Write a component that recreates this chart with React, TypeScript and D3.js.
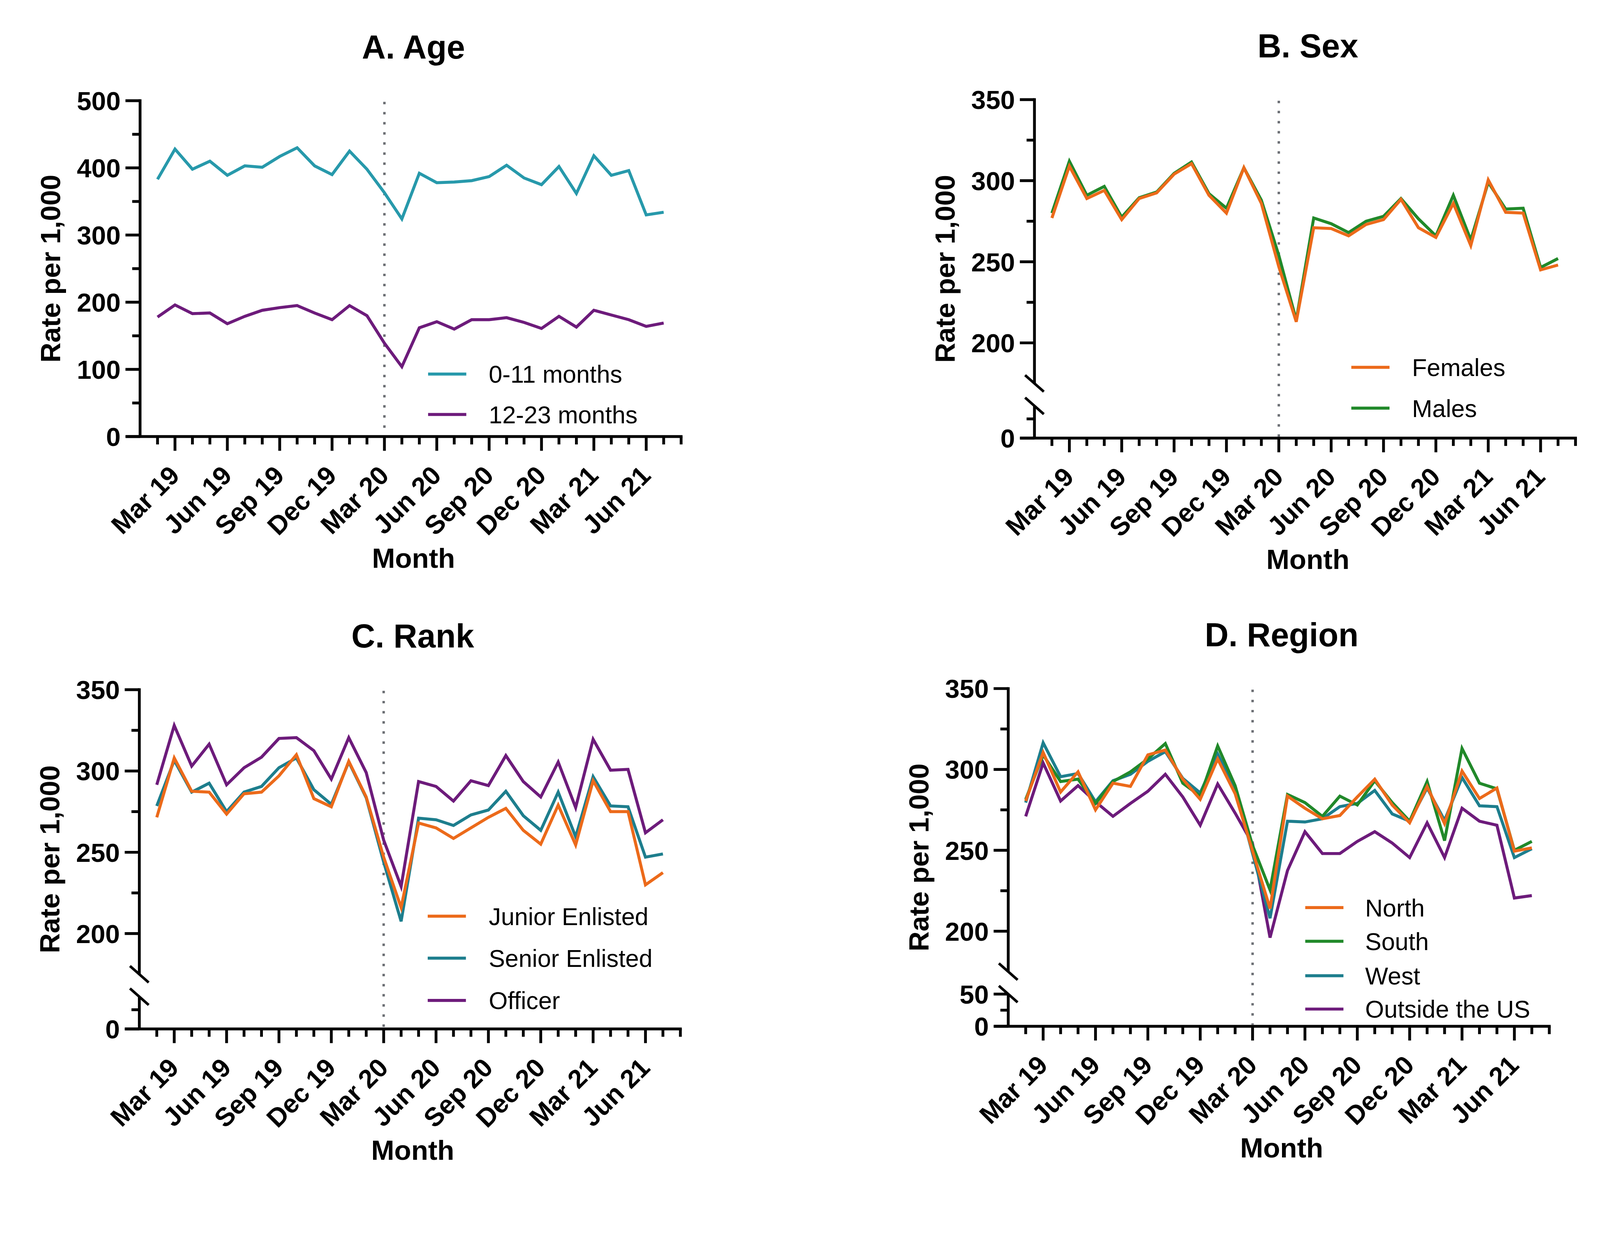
import React from "react"
import * as d3 from "d3"

const W = 4272
const H = 3160
const FONT = "'Liberation Sans', Arial, Helvetica, sans-serif"

// axis runs Jan 19 .. Aug 21, data Feb 19 .. Jul 21
const axisMonths = [
  "Jan 19", "Feb 19", "Mar 19", "Apr 19", "May 19", "Jun 19", "Jul 19", "Aug 19",
  "Sep 19", "Oct 19", "Nov 19", "Dec 19", "Jan 20", "Feb 20", "Mar 20", "Apr 20",
  "May 20", "Jun 20", "Jul 20", "Aug 20", "Sep 20", "Oct 20", "Nov 20", "Dec 20",
  "Jan 21", "Feb 21", "Mar 21", "Apr 21", "May 21", "Jun 21", "Jul 21", "Aug 21",
]
const dataMonths = axisMonths.slice(1, 31)
const xTickLabels = ["Mar 19", "Jun 19", "Sep 19", "Dec 19", "Mar 20", "Jun 20", "Sep 20", "Dec 20", "Mar 21", "Jun 21"]
const covidMonth = "Mar 20"

// A. Age
const age0to11 = [383, 428, 398, 410, 389, 403, 401, 417, 430, 403, 390, 425, 398, 363, 324, 392, 378, 379, 381, 387, 404, 385, 375, 402, 362, 418, 389, 396, 330, 334]
const age12to23 = [178, 196, 183, 184, 168, 179, 188, 192, 195, 184, 174, 195, 180, 139, 104, 162, 171, 160, 174, 174, 177, 170, 161, 179, 163, 188, 181, 174, 164, 169]

// B. Sex
const females = [277, 309, 289, 294, 276, 289, 292.5, 304, 310.5, 291, 280, 308, 286, 247, 213, 271, 270.5, 266, 273, 276, 288.5, 271, 265, 286, 260, 300.5, 280.5, 280, 245, 248]
const males = [280, 312, 291, 296.5, 277.5, 289.5, 293, 304.5, 311.5, 292, 283, 308, 288, 254, 214, 277, 273.5, 268, 275, 278, 289, 276.5, 266, 291, 263.5, 299, 282.5, 283, 246.5, 252]

// C. Rank
const juniorEnlisted = [271.5, 308, 287.5, 287, 273.5, 286, 287, 297, 310, 283, 278, 306, 284, 247, 216, 268, 265, 258.5, 265, 271.5, 277, 263.5, 255, 279, 254.5, 294, 275, 275, 230, 237.5]
const seniorEnlisted = [278.5, 306.5, 287, 292.5, 275, 287, 290.5, 302, 308, 288.5, 279.5, 305.5, 283.5, 244, 207.5, 271, 270, 266.5, 273, 276, 287.5, 272.5, 263.5, 287, 259.5, 296.5, 278.5, 278, 247, 249]
const officer = [291.5, 328, 303, 316.5, 291.5, 302, 308.5, 320, 320.5, 312.5, 295, 320.5, 299, 257.5, 229, 293.5, 290.5, 281.5, 294, 291, 309.5, 293.5, 284, 305.5, 277.5, 319.5, 300.5, 301, 262, 270]

// D. Region
const north = [280.5, 310.5, 286, 298.5, 275, 291.5, 289.5, 309, 312, 294, 281.5, 306.5, 285, 249.5, 214, 283.5, 276, 269.5, 271.5, 283, 294, 278, 267, 289.5, 266.5, 299, 282, 288.5, 249.5, 251.5]
const south = [281.5, 309, 292.5, 294, 279, 292.5, 298.5, 306.5, 316, 291.5, 283.5, 314.5, 290, 253, 225.5, 284.5, 279.5, 271, 283.5, 278, 293, 279.5, 268, 292.5, 256, 313, 291.5, 288, 250, 255.5]
const west = [279.5, 316.5, 295.5, 297.5, 280, 293, 297, 305, 311, 294.5, 285.5, 309.5, 288, 248, 208, 268, 267.5, 269.5, 277, 279, 287, 272.5, 268, 288.5, 268.5, 295, 277.5, 277, 245.5, 251]
const outsideUS = [271, 304, 280.5, 290, 280, 271, 279, 286.5, 297, 283, 265.5, 291, 273, 254, 196, 237.5, 261.5, 248, 248, 255.5, 261.5, 254.5, 245.5, 267, 245.5, 276, 268, 265.5, 220.5, 222]

const TEAL_A = "#2799AB"
const TEAL = "#1D7E8D"
const PURPLE = "#6D1B7B"
const ORANGE = "#EC6A1A"
const GREEN = "#21892A"

type Series = { name: string; color: string; values: number[] }

type PanelSpec = {
  title: string
  x0: number
  top: number
  bottom: number
  upper: [number, number]
  lower?: [number, number]
  major: number[]
  minor: number[]
  lowerMajor?: number[]
  lowerMinor?: number[]
  series: Series[]
  legendLineX: number
  legendTextX: number
  legendRows: number[]
}

const MW = 46.6
const AXIS_W = 7.5
const LINE_W = 8
const LOWER_H = 86
const GAP = 60

const panels: PanelSpec[] = [
  {
    title: "A. Age",
    x0: 374,
    top: 269,
    bottom: 1166,
    upper: [0, 500],
    major: [0, 100, 200, 300, 400, 500],
    minor: [50, 150, 250, 350, 450],
    series: [
      { name: "0-11 months", color: TEAL_A, values: age0to11 },
      { name: "12-23 months", color: PURPLE, values: age12to23 },
    ],
    legendLineX: 769,
    legendTextX: 931,
    legendRows: [-167, -59],
  },
  {
    title: "B. Sex",
    x0: 2762,
    top: 266,
    bottom: 1170,
    upper: [175, 350],
    lower: [0, 42],
    major: [200, 250, 300, 350],
    minor: [225, 275, 325],
    lowerMajor: [0],
    lowerMinor: [25],
    series: [
      { name: "Females", color: ORANGE, values: females },
      { name: "Males", color: GREEN, values: males },
    ],
    legendLineX: 846,
    legendTextX: 1008,
    legendRows: [-189, -80],
  },
  {
    title: "C. Rank",
    x0: 372,
    top: 1842,
    bottom: 2748,
    upper: [175, 350],
    lower: [0, 42],
    major: [200, 250, 300, 350],
    minor: [225, 275, 325],
    lowerMajor: [0],
    lowerMinor: [25],
    series: [
      { name: "Junior Enlisted", color: ORANGE, values: juniorEnlisted },
      { name: "Senior Enlisted", color: TEAL, values: seniorEnlisted },
      { name: "Officer", color: PURPLE, values: officer },
    ],
    legendLineX: 770,
    legendTextX: 933,
    legendRows: [-301, -189, -76],
  },
  {
    title: "D. Region",
    x0: 2692,
    top: 1839,
    bottom: 2741,
    upper: [175, 350],
    lower: [0, 50],
    major: [200, 250, 300, 350],
    minor: [225, 275, 325],
    lowerMajor: [0, 50],
    lowerMinor: [25],
    series: [
      { name: "North", color: ORANGE, values: north },
      { name: "South", color: GREEN, values: south },
      { name: "West", color: TEAL, values: west },
      { name: "Outside the US", color: PURPLE, values: outsideUS },
    ],
    legendLineX: 793,
    legendTextX: 953,
    legendRows: [-317, -227, -135, -46],
  },
]

function Panel({ spec }: { spec: PanelSpec }) {
  const { x0, top, bottom } = spec
  const x = d3
    .scalePoint<string>()
    .domain(axisMonths)
    .range([x0, x0 + (axisMonths.length - 1) * MW])

  const upperBottom = spec.lower ? bottom - LOWER_H - GAP : bottom
  const lowerTop = bottom - LOWER_H
  const yUp = d3.scaleLinear().domain(spec.upper).range([upperBottom, top])
  const yLow = spec.lower ? d3.scaleLinear().domain(spec.lower).range([bottom, lowerTop]) : null
  const y = (v: number) => (yLow && v < spec.upper[0] ? yLow(v) : yUp(v))

  const line = d3
    .line<number>()
    .x((_, i) => x(dataMonths[i])!)
    .y((v) => y(v))

  const xEnd = x(axisMonths[axisMonths.length - 1])!
  const cx = x0 + 730
  const tickLabelStyle = { fontFamily: FONT, fontWeight: 700, fontSize: 70 }

  const yTicks: { v: number; major: boolean; pos: number }[] = [
    ...spec.major.map((v) => ({ v, major: true, pos: yUp(v) })),
    ...spec.minor.map((v) => ({ v, major: false, pos: yUp(v) })),
    ...(yLow ? (spec.lowerMajor ?? []).map((v) => ({ v, major: true, pos: yLow(v) })) : []),
    ...(yLow ? (spec.lowerMinor ?? []).map((v) => ({ v, major: false, pos: yLow(v) })) : []),
  ]

  return (
    <g>
      <text x={cx} y={top - 113} textAnchor="middle" style={{ fontFamily: FONT, fontWeight: 700, fontSize: 88 }}>
        {spec.title}
      </text>

      {/* covid marker */}
      <line
        x1={x(covidMonth)}
        x2={x(covidMonth)}
        y1={top + 3}
        y2={bottom - 4}
        stroke="#6c6f74"
        strokeWidth={6.5}
        strokeDasharray="6.5 20.5"
      />

      {/* first listed series ends up on top, as in the original */}
      {[...spec.series].reverse().map((s) => (
        <path key={s.name} d={line(s.values)!} fill="none" stroke={s.color} strokeWidth={LINE_W} strokeLinejoin="miter" />
      ))}

      {/* y axis */}
      <line x1={x0} x2={x0} y1={top - AXIS_W / 2} y2={upperBottom} stroke="#000" strokeWidth={AXIS_W} />
      {yLow && <line x1={x0} x2={x0} y1={lowerTop} y2={bottom} stroke="#000" strokeWidth={AXIS_W} />}
      {yLow &&
        [upperBottom, lowerTop].map((yc) => (
          <line key={yc} x1={x0 - 25} x2={x0 + 25} y1={yc - 22} y2={yc + 22} stroke="#000" strokeWidth={7} />
        ))}
      {yTicks.map((t) => (
        <line
          key={`${t.v}-${t.pos}`}
          x1={x0 - (t.major ? 39 : 21)}
          x2={x0}
          y1={t.pos}
          y2={t.pos}
          stroke="#000"
          strokeWidth={AXIS_W}
        />
      ))}
      {yTicks
        .filter((t) => t.major)
        .map((t) => (
          <text key={`l${t.v}`} x={x0 - 52} y={t.pos} dy="0.36em" textAnchor="end" style={tickLabelStyle}>
            {t.v}
          </text>
        ))}

      {/* x axis */}
      <line x1={x0 - 38} x2={xEnd + AXIS_W / 2} y1={bottom} y2={bottom} stroke="#000" strokeWidth={AXIS_W} />
      {axisMonths.slice(1).map((m) => {
        const major = xTickLabels.includes(m)
        return (
          <line key={m} x1={x(m)} x2={x(m)} y1={bottom} y2={bottom + (major ? 38 : 21)} stroke="#000" strokeWidth={AXIS_W} />
        )
      })}
      {xTickLabels.map((m) => {
        const tx = x(m)! + 16
        const ty = bottom + 108
        return (
          <text key={m} x={tx} y={ty} textAnchor="end" transform={`rotate(-45 ${tx} ${ty})`} style={tickLabelStyle}>
            {m}
          </text>
        )
      })}

      <text x={cx} y={bottom + 350} textAnchor="middle" style={{ fontFamily: FONT, fontWeight: 700, fontSize: 74 }}>
        Month
      </text>
      <text
        transform={`translate(${x0 - 240},${(top + bottom) / 2}) rotate(-90)`}
        textAnchor="middle"
        dy="0.36em"
        style={{ fontFamily: FONT, fontWeight: 700, fontSize: 74 }}
      >
        Rate per 1,000
      </text>

      {/* legend */}
      {spec.series.map((s, i) => {
        const ly = bottom + spec.legendRows[i]
        return (
          <g key={s.name}>
            <line x1={x0 + spec.legendLineX} x2={x0 + spec.legendLineX + 102} y1={ly} y2={ly} stroke={s.color} strokeWidth={LINE_W} />
            <text x={x0 + spec.legendTextX} y={ly} dy="0.36em" style={{ fontFamily: FONT, fontSize: 65 }}>
              {s.name}
            </text>
          </g>
        )
      })}
    </g>
  )
}

export default function App() {
  // fit the drawing to whatever the viewport really is
  return (
    <svg
      viewBox={`0 0 ${W} ${H}`}
      preserveAspectRatio="xMinYMin meet"
      style={{ position: "fixed", left: 0, top: 0, width: "100vw", height: "100vh", background: "#fff", display: "block" }}
    >
      <rect width={W} height={H} fill="#fff" />
      {panels.map((p) => (
        <Panel key={p.title} spec={p} />
      ))}
    </svg>
  )
}
